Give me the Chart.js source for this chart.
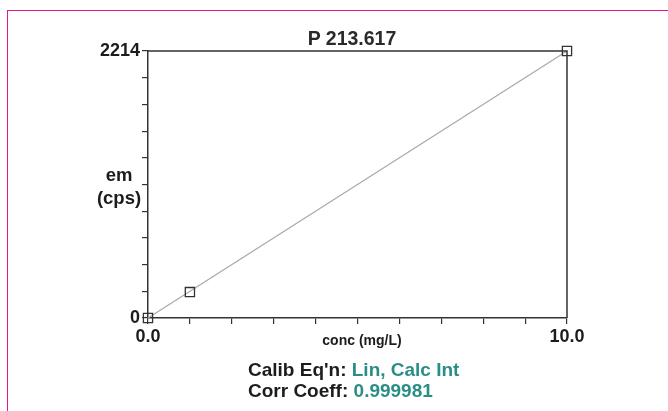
<!DOCTYPE html>
<html>
<head>
<meta charset="utf-8">
<script src="https://cdn.jsdelivr.net/npm/chart.js@4/dist/chart.umd.min.js"></script>
<style>
  html, body { margin: 0; padding: 0; background: #fff; }
  #wrap { position: relative; width: 668px; height: 411px; overflow: hidden; font-family: "Liberation Sans", Arial, sans-serif; }
  #frame { position: absolute; left: 7px; top: 10px; width: 700px; height: 450px; border-top: 1.6px solid #e4168c; border-left: 1.6px solid #e4168c; }
  canvas { position: absolute; left: 0; top: 0; }
  .t { position: absolute; white-space: nowrap; color: #1c1c1c; }
  #title { left: 0; width: 704px; top: 27px; text-align: center; font-size: 19.5px; font-weight: bold; color: #2a2a2a; }
  #ytitle { left: 86px; width: 66px; top: 163px; text-align: center; font-size: 18.5px; font-weight: bold; line-height: 23px; }
  #xtitle { left: 302px; width: 120px; top: 332px; text-align: center; font-size: 14px; font-weight: bold; }
  #cap { left: 248px; top: 359px; font-size: 19px; font-weight: bold; line-height: 21px; }
  .v { color: #2b8e86; }
</style>
</head>
<body>
<div id="wrap">
  <div id="frame"></div>
  <canvas id="c" width="668" height="411"></canvas>
  <div class="t" id="title">P 213.617</div>
  <div class="t" id="ytitle">em<br>(cps)</div>
  <div class="t" id="xtitle">conc (mg/L)</div>
  <div class="t" id="cap">Calib Eq'n: <span class="v">Lin, Calc Int</span><br>Corr Coeff: <span class="v">0.999981</span></div>
</div>
<script>
// Data
const concentrations = [0.0, 1.0, 10.0];          // mg/L
const intensities = [0, 215, 2214];               // cps
const fitConc = [0.0, 10.0];
const fitIntensity = [0, 2214];

// Axis ticks
const xTickValues = [0, 1, 2, 3, 4, 5, 6, 7, 8, 9, 10];
const xTickLabels = { 0: '0.0', 10: '10.0' };
const yTickValues = [0, 221.4, 442.8, 664.2, 885.6, 1107, 1328.4, 1549.8, 1771.2, 1992.6, 2214];
const yTickLabels = { 0: '0', 2214: '2214' };

const pts = concentrations.map((x, i) => ({ x: x, y: intensities[i] }));
const fit = fitConc.map((x, i) => ({ x: x, y: fitIntensity[i] }));

const boxPlugin = {
  id: 'box',
  afterDatasetsDraw(chart) {
    const a = chart.chartArea, ctx = chart.ctx;
    ctx.save();
    ctx.strokeStyle = '#333';
    ctx.lineWidth = 1.5;
    ctx.beginPath();
    ctx.moveTo(a.left, a.top);
    ctx.lineTo(a.right, a.top);
    ctx.lineTo(a.right, a.bottom);
    ctx.stroke();
    ctx.restore();
  }
};

new Chart(document.getElementById('c'), {
  type: 'scatter',
  data: {
    datasets: [
      {
        data: fit, showLine: true, borderColor: '#aaaaaa', borderWidth: 1.3,
        pointRadius: 0, order: 2, clip: false
      },
      {
        data: pts, showLine: false, pointStyle: 'rect', pointRadius: 6.5,
        pointBackgroundColor: 'rgba(255,255,255,0)', pointBorderColor: '#333',
        pointBorderWidth: 1.3, order: 1, clip: false
      }
    ]
  },
  options: {
    responsive: false,
    animation: false,
    events: [],
    layout: { padding: { left: 0, top: 51, right: 101, bottom: 0 } },
    plugins: { legend: { display: false }, tooltip: { enabled: false }, title: { display: false } },
    scales: {
      x: {
        type: 'linear', min: 0, max: 10,
        afterBuildTicks(s) { s.ticks = xTickValues.map(v => ({ value: v })); },
        afterFit(s) { s.height = 93; },
        ticks: {
          autoSkip: false, maxRotation: 0, padding: 2, color: '#1c1c1c',
          font: { family: 'Liberation Sans, Arial, sans-serif', size: 18, weight: 'bold' },
          callback: (v) => xTickLabels[v] !== undefined ? xTickLabels[v] : ''
        },
        grid: { display: true, drawOnChartArea: false, drawTicks: true, tickLength: 6, color: '#333', lineWidth: 1.2 },
        border: { display: true, color: '#333', width: 1.5 }
      },
      y: {
        type: 'linear', min: 0, max: 2214,
        afterBuildTicks(s) { s.ticks = yTickValues.map(v => ({ value: v })); },
        afterFit(s) { s.width = 148; },
        ticks: {
          autoSkip: false, padding: 2, color: '#1c1c1c',
          font: { family: 'Liberation Sans, Arial, sans-serif', size: 18, weight: 'bold' },
          callback: (v) => yTickLabels[v] !== undefined ? yTickLabels[v] : ''
        },
        grid: { display: true, drawOnChartArea: false, drawTicks: true, tickLength: 6, color: '#333', lineWidth: 1.2 },
        border: { display: true, color: '#333', width: 1.5 }
      }
    }
  },
  plugins: [boxPlugin]
});
</script>
</body>
</html>
